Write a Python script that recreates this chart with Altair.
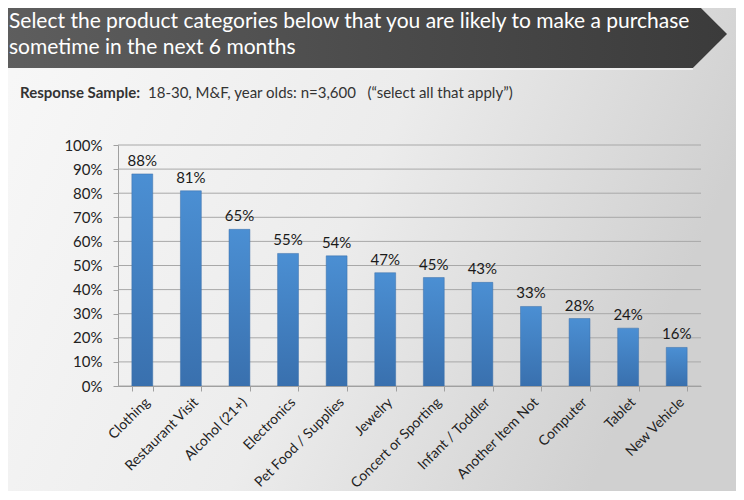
import altair as alt
import pandas as pd

categories = ["Clothing", "Restaurant Visit", "Alcohol (21+)", "Electronics",
              "Pet Food / Supplies", "Jewelry", "Concert or Sporting",
              "Infant / Toddler", "Another Item Not", "Computer", "Tablet",
              "New Vehicle"]
values = [88, 81, 65, 55, 54, 47, 45, 43, 33, 28, 24, 16]
y_ticks = [0, 10, 20, 30, 40, 50, 60, 70, 80, 90, 100]

title_lines = ["Select the product categories below that you are likely to make a purchase",
               "sometime in the next 6 months"]
subtitle_bold = "Response Sample:"
subtitle_rest = "18-30, M&F, year olds: n=3,600\u00a0\u00a0\u00a0(\u201cselect all that apply\u201d)"

df = pd.DataFrame({"cat": categories, "val": [v / 100 for v in values],
                   "lab": [f"{v}%" for v in values]})
grid_df = pd.DataFrame({"val": [t / 100 for t in y_ticks]})

FONT = "Lato"
W, H = 583, 241
one = alt.Data(values=[{"a": 1}])

bg_grad = {"gradient": "linear", "x1": 0, "y1": 0, "x2": 1, "y2": 0.3,
           "stops": [{"offset": 0, "color": "#f8f8f8"},
                     {"offset": 0.55, "color": "#ececec"},
                     {"offset": 1, "color": "#d0d0d0"}]}
banner_grad = {"gradient": "linear", "x1": 0, "y1": 0, "x2": 1, "y2": 0,
               "stops": [{"offset": 0, "color": "#5e5e5e"},
                         {"offset": 0.5, "color": "#4c4c4c"},
                         {"offset": 1, "color": "#3b3b3b"}]}
bar_grad = {"gradient": "linear", "x1": 0, "y1": 0, "x2": 0, "y2": 1,
            "stops": [{"offset": 0, "color": "#4b8fd3"},
                      {"offset": 1, "color": "#3970ae"}]}

background = alt.Chart(one).mark_rect(fill=bg_grad).encode(
    x=alt.value(-112), x2=alt.value(W + 40), y=alt.value(-140), y2=alt.value(H + 110))

banner = alt.Chart(one).mark_point(
    shape="M-1,-0.0937L0.906,-0.0937L1,0L0.906,0.0937L-1,0.0937Z",
    filled=True, fill=banner_grad, opacity=1, strokeWidth=0
).encode(x=alt.value(246), y=alt.value(-111), size=alt.value(726 * 726))

banner_line = alt.Chart(one).mark_rule(color="#f4f4f4", strokeWidth=1.5).encode(
    x=alt.value(-112), x2=alt.value(575), y=alt.value(-76))

title1 = alt.Chart(one).mark_text(
    text=title_lines[0], font=FONT, fontSize=21, color="white", align="left",
    baseline="middle").encode(x=alt.value(-109), y=alt.value(-123))
title2 = alt.Chart(one).mark_text(
    text=title_lines[1], font=FONT, fontSize=21, color="white", align="left",
    baseline="middle").encode(x=alt.value(-109), y=alt.value(-97))

sub1 = alt.Chart(one).mark_text(
    text=subtitle_bold, font=FONT, fontSize=15, fontWeight="bold", color="#333333",
    align="left", baseline="middle").encode(x=alt.value(-98), y=alt.value(-52))
sub2 = alt.Chart(one).mark_text(
    text=subtitle_rest, font=FONT, fontSize=15, color="#333333",
    align="left", baseline="middle").encode(x=alt.value(30), y=alt.value(-52))

xenc = alt.X("cat:N", sort=categories,
             scale=alt.Scale(paddingInner=0.57, paddingOuter=0.285),
             axis=alt.Axis(title=None, labelAngle=-45, labelFont=FONT, labelFontSize=14,
                           labelColor="#222222", domainColor="#a0a0a0", tickColor="#a0a0a0",
                           tickBand="extent", tickSize=5, labelPadding=4, grid=False,
                           labelOverlap=False, zindex=1))
yenc = alt.Y("val:Q", scale=alt.Scale(domain=[0, 1]),
             axis=alt.Axis(title=None, format=".0%", values=[t / 100 for t in y_ticks],
                           tickCount=11,
                           labelFont=FONT, labelFontSize=15, labelColor="#222222",
                           domainColor="#a0a0a0", tickColor="#a0a0a0", tickSize=5,
                           labelPadding=11, grid=False, labelOverlap=False, zindex=1))

grid = alt.Chart(grid_df).mark_rule(color="#a8a8a8", strokeWidth=1).encode(
    y=yenc, x=alt.value(0), x2=alt.value(W))

bars = alt.Chart(df).mark_bar(fill=bar_grad, stroke="#3a6ea8", strokeWidth=0.5).encode(
    x=xenc, y=yenc)
labels = alt.Chart(df).mark_text(font=FONT, fontSize=15, color="#1a1a1a",
                                 baseline="bottom", dy=-5).encode(
    x=xenc, y=yenc, text="lab:N")

chart = alt.layer(background, banner, banner_line, title1, title2, sub1, sub2,
                  grid, bars, labels).properties(
    width=W, height=H,
    padding={"left": 110, "top": 137, "right": 35, "bottom": 105},
    autosize=alt.AutoSizeParams(type="none"),
    background="white"
).configure_view(strokeWidth=0).configure_axis(labelOverlap=False)

chart.save("out.html", embed_options={"renderer": "svg", "actions": False})
